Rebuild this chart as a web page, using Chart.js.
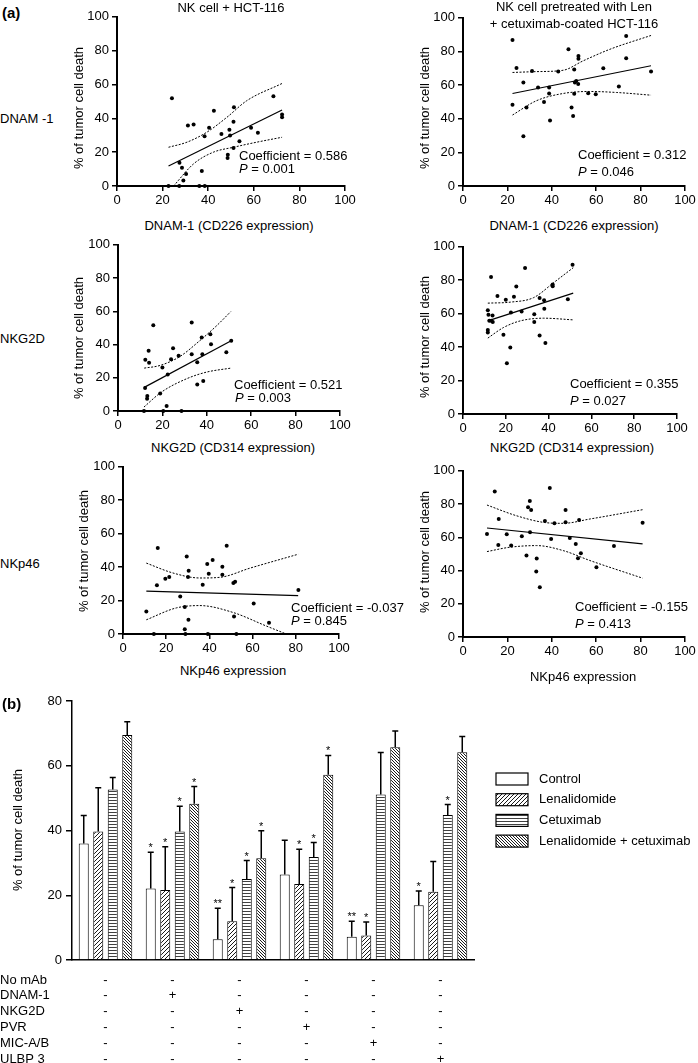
<!DOCTYPE html>
<html>
<head>
<meta charset="utf-8">
<script src="https://cdn.jsdelivr.net/npm/chart.js@4.4.1/dist/chart.umd.min.js"></script>
<style>
body { margin: 0; width: 698px; height: 1063px; position: relative; overflow: hidden; background: #fff; font-family: "Liberation Sans", Arial, sans-serif; color: #000; }
canvas { position: absolute; }
.t { position: absolute; font-size: 13px; line-height: 1; white-space: nowrap; }
.c { transform: translate(-50%, -50%); }
.l { transform: translateY(-50%); }
.r { transform: translate(-50%, -50%) rotate(-90deg); }
.b { font-weight: bold; font-size: 15px; }
</style>
</head>
<body>
<canvas id="c1"></canvas>
<canvas id="c2"></canvas>
<canvas id="c3"></canvas>
<canvas id="c4"></canvas>
<canvas id="c5"></canvas>
<canvas id="c6"></canvas>
<canvas id="bars"></canvas>

<div class="t l b" style="left:2px;top:12px">(a)</div>
<div class="t c" style="left:231px;top:7px">NK cell + HCT-116</div>
<div class="t c" style="left:574px;top:6px">NK cell pretreated with Len</div>
<div class="t c" style="left:574px;top:23px">+ cetuximab-coated HCT-116</div>

<div class="t l" style="left:0px;top:118px">DNAM -1</div>
<div class="t l" style="left:0px;top:338px">NKG2D</div>
<div class="t l" style="left:0px;top:563px">NKp46</div>

<div class="t r" style="left:78px;top:108px">% of tumor cell death</div>
<div class="t r" style="left:424px;top:108px">% of tumor cell death</div>
<div class="t r" style="left:78px;top:338px">% of tumor cell death</div>
<div class="t r" style="left:424px;top:337px">% of tumor cell death</div>
<div class="t r" style="left:83px;top:551px">% of tumor cell death</div>
<div class="t r" style="left:424px;top:552px">% of tumor cell death</div>

<div class="t c" style="left:229px;top:225px">DNAM-1 (CD226 expression)</div>
<div class="t c" style="left:574px;top:225px">DNAM-1 (CD226 expression)</div>
<div class="t c" style="left:233px;top:447px">NKG2D (CD314 expression)</div>
<div class="t c" style="left:572px;top:447px">NKG2D (CD314 expression)</div>
<div class="t c" style="left:233px;top:670px">NKp46 expression</div>
<div class="t c" style="left:583px;top:676px">NKp46 expression</div>

<div class="t l" style="left:239px;top:155px">Coefficient = 0.586</div>
<div class="t l" style="left:239px;top:168px"><i>P</i> = 0.001</div>
<div class="t l" style="left:578px;top:154px">Coefficient = 0.312</div>
<div class="t l" style="left:578px;top:171px"><i>P</i> = 0.046</div>
<div class="t l" style="left:234px;top:384px">Coefficient = 0.521</div>
<div class="t l" style="left:235px;top:397px"><i>P</i> = 0.003</div>
<div class="t l" style="left:570px;top:383px">Coefficient = 0.355</div>
<div class="t l" style="left:570px;top:400px"><i>P</i> = 0.027</div>
<div class="t l" style="left:291px;top:607px">Coefficient = -0.037</div>
<div class="t l" style="left:291px;top:620px"><i>P</i> = 0.845</div>
<div class="t l" style="left:575px;top:606px">Coefficient = -0.155</div>
<div class="t l" style="left:575px;top:623px"><i>P</i> = 0.413</div>

<div class="t l b" style="left:2px;top:703px">(b)</div>
<div class="t r" style="left:17px;top:830px">% of tumor cell death</div>

<script>
// (a) NK cell + HCT-116, DNAM-1
var c1X = [24.1, 31.1, 33.6, 40.4, 42.5, 38.4, 45.8, 49.3, 49.6, 51.3, 51.1, 53.7, 51.1, 48.6, 48.5, 58.8, 61.8, 68.6, 72.4, 72.4, 27.4, 28.5, 30.3, 29.1, 37.2, 22.6, 27.3, 36.1, 38.5];
var c1Y = [51.8, 35.7, 36.3, 34.5, 44.5, 29.4, 30.8, 33.3, 29.8, 46.5, 38.0, 26.5, 22.5, 18.4, 16.5, 34.5, 31.4, 53.1, 42.2, 40.6, 13.7, 10.8, 7.1, 3.3, 8.8, 0, 0, 0, 0];
var c1FitX = [22.6, 72.4], c1FitY = [11.8, 44.9];
var c1UpX = [22.6, 30.7, 39.4, 48.2, 56.9, 72.4], c1UpY = [22.9, 25.9, 31.8, 40.6, 50.4, 60.6];
var c1LoX = [24.8, 33.6, 42.3, 51.1, 61.3, 72.4], c1LoY = [0, 13.1, 20.0, 22.9, 25.9, 28.8];

// Len + cetuximab, DNAM-1
var c2X = [22.3, 24.1, 22.3, 27.2, 28.6, 27.2, 31.1, 33.8, 38.8, 38.8, 36.5, 39.2, 42.9, 47.5, 48.9, 49.6, 50.1, 50.1, 50.4, 51.0, 51.9, 52.0, 52.0, 56.4, 59.8, 63.2, 70.2, 73.5, 73.5, 84.7];
var c2Y = [86.8, 70.2, 48.3, 61.5, 46.7, 29.6, 68.4, 58.6, 58.6, 55.0, 49.9, 38.9, 68.0, 81.3, 46.7, 41.6, 69.2, 54.8, 61.5, 62.5, 60.6, 77.3, 75.7, 55.2, 54.6, 70.0, 59.2, 89.2, 75.9, 68.0];
var c2FitX = [22.3, 84.7], c2FitY = [55.0, 71.5];
var c2UpX = [22.3, 33.1, 45.1, 54.1, 66.2, 84.7], c2UpY = [67.5, 68.0, 68.8, 74.4, 81.3, 89.5];
var c2LoX = [22.3, 33.1, 45.1, 57.1, 69.2, 84.7], c2LoY = [42.2, 50.7, 55.0, 56.2, 55.6, 54.0];

// NK cell + HCT-116, NKG2D
var c3X = [15.9, 12.3, 14.0, 13.8, 20.0, 22.4, 23.9, 24.8, 27.3, 33.2, 33.2, 35.7, 37.7, 38.0, 41.6, 41.9, 48.8, 51.0, 35.7, 38.4, 13.1, 13.2, 19.0, 21.9, 11.7, 20.4, 28.6, 12.2];
var c3Y = [51.6, 30.8, 29.0, 36.2, 26.2, 22.0, 31.2, 37.8, 33.2, 53.2, 34.2, 29.4, 44.2, 34.2, 46.2, 40.2, 35.4, 42.2, 16.0, 18.0, 7.4, 9.0, 10.6, 3.0, 0, 0, 0, 13.8];
var c3FitX = [11.8, 51.2], c3FitY = [14.2, 42.4];
var c3UpX = [11.8, 18.9, 27.9, 36.9, 44.5, 50.8], c3UpY = [25.8, 27.4, 32.8, 42.4, 51.4, 59.8];
var c3LoX = [11.7, 19.6, 30.9, 39.9, 50.8], c3LoY = [2.4, 11.4, 19.4, 23.4, 25.8];

// Len + cetuximab, NKG2D
var c4X = [13.1, 11.6, 11.9, 13.8, 12.3, 13.3, 13.9, 11.6, 11.6, 16.1, 20.0, 18.9, 22.1, 20.5, 22.4, 23.8, 24.9, 29.0, 27.4, 33.3, 33.3, 35.8, 37.9, 38.0, 35.8, 38.5, 41.9, 41.9, 49.0, 51.2];
var c4Y = [82.0, 62.1, 59.3, 58.9, 55.7, 55.7, 55.0, 50.2, 48.8, 70.6, 68.3, 47.4, 39.8, 30.3, 60.7, 70.2, 76.2, 87.3, 61.3, 59.7, 55.0, 69.4, 68.1, 62.9, 47.0, 42.5, 77.4, 76.4, 68.7, 89.3];
var c4FitX = [11.6, 51.5], c4FitY = [55.7, 72.3];
var c4UpX = [11.6, 22.1, 33.0, 42.4, 51.5], c4UpY = [66.3, 66.9, 69.6, 78.6, 87.5];
var c4LoX = [11.6, 18.9, 26.8, 37.7, 51.5], c4LoY = [45.4, 51.7, 55.7, 57.3, 56.3];

// NK cell + HCT-116, NKp46
var c5X = [16.1, 15.7, 19.6, 21.4, 29.5, 30.4, 30.1, 26.5, 36.9, 39.0, 39.7, 41.5, 46.0, 46.0, 48.0, 51.1, 51.9, 81.2, 10.8, 28.6, 30.3, 28.6, 60.5, 51.4, 67.6, 14.3, 28.9, 39.3, 52.5];
var c5Y = [51.4, 29.1, 33.1, 34.1, 46.3, 37.8, 34.1, 22.4, 29.5, 41.8, 36.1, 44.2, 40.2, 35.5, 52.8, 30.5, 31.3, 26.3, 13.5, 16.2, 8.5, 2.8, 18.2, 10.5, 6.8, 0, 0, 0, 0];
var c5FitX = [10.8, 81.1], c5FitY = [25.7, 22.9];
var c5UpX = [10.8, 23.1, 35.6, 44.9, 58.8, 81.1], c5UpY = [42.4, 36.5, 33.5, 33.9, 39.4, 47.7];
var c5LoX = [10.8, 24.7, 35.5, 50.9, 66.3, 75.6], c5LoY = [8.5, 15.6, 17.0, 12.9, 4.8, 0];

// Len + cetuximab, NKp46
var c6X = [14.3, 10.8, 16.1, 15.9, 19.7, 21.7, 26.5, 28.6, 30.1, 29.3, 30.7, 30.2, 33.2, 33.0, 34.6, 36.9, 39.7, 39.1, 41.2, 46.2, 46.2, 52.3, 48.1, 50.8, 53.1, 51.8, 60.1, 68.0, 80.9];
var c6Y = [87.6, 62.0, 71.0, 55.4, 61.8, 55.0, 60.6, 49.0, 81.8, 78.0, 76.4, 63.0, 47.2, 39.4, 30.0, 69.8, 59.0, 89.6, 68.4, 76.4, 69.0, 70.4, 59.6, 56.0, 50.4, 47.4, 42.0, 54.8, 68.8];
var c6FitX = [10.8, 80.9], c6FitY = [65.6, 56.0];
var c6UpX = [10.8, 24.0, 36.1, 45.1, 57.2, 80.9], c6UpY = [79.4, 73.0, 69.0, 68.4, 71.0, 76.6];
var c6LoX = [10.8, 21.1, 33.1, 45.1, 57.2, 80.9], c6LoY = [51.4, 54.0, 55.0, 52.0, 46.0, 35.4];

// (b) blocking antibodies
var groups = ['No mAb', 'DNAM-1', 'NKG2D', 'PVR', 'MIC-A/B', 'ULBP 3'];
var seriesNames = ['Control', 'Lenalidomide', 'Cetuximab', 'Lenalidomide + cetuximab'];
var control = [36.0, 22.1, 6.4, 26.4, 7.2, 16.9];
var controlSd = [8.6, 11.2, 9.6, 10.6, 4.8, 4.4];
var controlStars = ['', '*', '**', '', '**', '*'];
var lenalidomide = [39.7, 21.6, 12.0, 23.5, 7.6, 21.1];
var lenalidomideSd = [13.5, 13.4, 10.4, 10.7, 4.1, 9.3];
var lenalidomideStars = ['', '*', '*', '*', '*', ''];
var cetuximab = [52.7, 39.7, 25.0, 31.8, 51.1, 44.8];
var cetuximabSd = [3.7, 7.8, 5.7, 4.5, 13.0, 3.2];
var cetuximabStars = ['', '*', '*', '*', '', '*'];
var combo = [69.5, 48.3, 31.4, 57.2, 65.7, 64.2];
var comboSd = [4.1, 5.3, 8.5, 6.0, 5.0, 4.8];
var comboStars = ['', '*', '*', '*', '', ''];
var tableRows = ['No mAb', 'DNAM-1', 'NKG2D', 'PVR', 'MIC-A/B', 'ULBP 3'];
var tableMarks = [
    ['-', '-', '-', '-', '-', '-'],
    ['-', '+', '-', '-', '-', '-'],
    ['-', '-', '+', '-', '-', '-'],
    ['-', '-', '-', '+', '-', '-'],
    ['-', '-', '-', '-', '+', '-'],
    ['-', '-', '-', '-', '-', '+']
];

var FONT = '"Liberation Sans", Arial, sans-serif';
Chart.defaults.font.family = FONT;
Chart.defaults.font.size = 13;
Chart.defaults.color = '#000';

function pts(xs, ys) {
    return xs.map(function (x, i) { return { x: x, y: ys[i] }; });
}

function scatterPanel(id, box, xs, ys, fitX, fitY, upX, upY, loX, loY) {
    var yW = 50, padTop = 10, padRight = 16, xH = 24;
    var cv = document.getElementById(id);
    cv.width = box.r - box.l + yW + padRight;
    cv.height = box.b - box.t + padTop + xH;
    cv.style.left = (box.l - yW) + 'px';
    cv.style.top = (box.t - padTop) + 'px';

    var band = { type: 'line', borderColor: '#000', borderWidth: 1, borderDash: [2, 1.5], pointRadius: 0, cubicInterpolationMode: 'monotone' };

    new Chart(cv, {
        type: 'scatter',
        data: {
            datasets: [
                { data: pts(xs, ys), pointRadius: 2, pointBackgroundColor: '#000', pointBorderWidth: 0, clip: false },
                { type: 'line', data: pts(fitX, fitY), borderColor: '#000', borderWidth: 1.2, pointRadius: 0 },
                Object.assign({ data: pts(upX, upY) }, band),
                Object.assign({ data: pts(loX, loY) }, band)
            ]
        },
        options: {
            responsive: false,
            animation: false,
            events: [],
            devicePixelRatio: 1,
            layout: { padding: { top: padTop, right: padRight, left: 0, bottom: 0 } },
            plugins: { legend: { display: false }, tooltip: { enabled: false } },
            scales: {
                x: {
                    type: 'linear', min: 0, max: 100,
                    afterFit: function (s) { s.height = xH; },
                    ticks: { stepSize: 20, padding: 2, maxRotation: 0, autoSkip: false },
                    grid: { drawOnChartArea: false, color: '#000', lineWidth: 1.5, tickLength: 5 },
                    border: { color: '#000', width: 2 }
                },
                y: {
                    min: 0, max: 100,
                    afterFit: function (s) { s.width = yW; },
                    ticks: { stepSize: 20, padding: 3 },
                    grid: { drawOnChartArea: false, color: '#000', lineWidth: 1.5, tickLength: 5 },
                    border: { color: '#000', width: 2 }
                }
            }
        }
    });
}

scatterPanel('c1', { l: 117, t: 16, r: 345, b: 186 }, c1X, c1Y, c1FitX, c1FitY, c1UpX, c1UpY, c1LoX, c1LoY);
scatterPanel('c2', { l: 463, t: 17, r: 685, b: 186 }, c2X, c2Y, c2FitX, c2FitY, c2UpX, c2UpY, c2LoX, c2LoY);
scatterPanel('c3', { l: 118, t: 244, r: 340, b: 411 }, c3X, c3Y, c3FitX, c3FitY, c3UpX, c3UpY, c3LoX, c3LoY);
scatterPanel('c4', { l: 463, t: 246, r: 677, b: 414 }, c4X, c4Y, c4FitX, c4FitY, c4UpX, c4UpY, c4LoX, c4LoY);
scatterPanel('c5', { l: 123, t: 466, r: 339, b: 634 }, c5X, c5Y, c5FitX, c5FitY, c5UpX, c5UpY, c5LoX, c5LoY);
scatterPanel('c6', { l: 463, t: 470, r: 685, b: 637 }, c6X, c6Y, c6FitX, c6FitY, c6UpX, c6UpY, c6LoX, c6LoY);

// hatch fills for the bars
function hatch(size, draw) {
    var c = document.createElement('canvas');
    c.width = c.height = size;
    var g = c.getContext('2d');
    g.fillStyle = '#fff';
    g.fillRect(0, 0, size, size);
    g.strokeStyle = '#000';
    g.fillStyle = '#000';
    g.lineWidth = 0.9;
    draw(g, size);
    return g.createPattern(c, 'repeat');
}
var lenFill = hatch(4, function (g, s) {
    g.beginPath();
    g.moveTo(0, s); g.lineTo(s, 0);
    g.moveTo(-1, 1); g.lineTo(1, -1);
    g.moveTo(s - 1, s + 1); g.lineTo(s + 1, s - 1);
    g.stroke();
});
var cetFill = hatch(3, function (g, s) {
    g.globalAlpha = 0.75;
    g.fillRect(0, 0, s, 1);
});
var comboFill = hatch(3, function (g, s) {
    g.beginPath();
    g.moveTo(0, 0); g.lineTo(s, s);
    g.moveTo(-1, s - 1); g.lineTo(1, s + 1);
    g.moveTo(s - 1, -1); g.lineTo(s + 1, 1);
    g.stroke();
});

var barExtras = {
    id: 'barExtras',
    afterDatasetsDraw: function (chart) {
        var ctx = chart.ctx, ys = chart.scales.y, xs = chart.scales.x;
        ctx.save();
        ctx.strokeStyle = '#000';
        ctx.fillStyle = '#000';
        ctx.lineWidth = 1.5;
        ctx.textAlign = 'center';
        ctx.textBaseline = 'middle';
        ctx.font = '11px ' + FONT;
        chart.data.datasets.forEach(function (ds, i) {
            chart.getDatasetMeta(i).data.forEach(function (bar, j) {
                var top = ys.getPixelForValue(ds.data[j] + ds.sd[j]);
                ctx.beginPath();
                ctx.moveTo(bar.x, bar.y);
                ctx.lineTo(bar.x, top);
                ctx.moveTo(bar.x - 3, top);
                ctx.lineTo(bar.x + 3, top);
                ctx.stroke();
                if (ds.stars[j]) ctx.fillText(ds.stars[j], bar.x, top - 4);
            });
        });

        // legend
        ctx.textAlign = 'left';
        ctx.font = '13px ' + FONT;
        ctx.lineWidth = 1.2;
        chart.data.datasets.forEach(function (ds, i) {
            var cy = 99 + i * 20.7;
            ctx.fillStyle = ds.backgroundColor;
            ctx.fillRect(496, cy - 6, 32, 12);
            ctx.strokeRect(496, cy - 6, 32, 12);
            ctx.fillStyle = '#000';
            ctx.fillText(ds.label, 539, cy);
        });

        // antibody table under the axis
        ctx.font = '13px ' + FONT;
        tableRows.forEach(function (name, r) {
            var cy = 300 + r * 15.8;
            ctx.textAlign = 'left';
            ctx.fillText(name, 0, cy);
            ctx.textAlign = 'center';
            tableMarks[r].forEach(function (m, k) {
                ctx.fillText(m, xs.getPixelForValue(k), cy);
            });
        });
        ctx.restore();
    }
};

(function () {
    var box = { l: 72, t: 701, r: 474, b: 960 };
    var cv = document.getElementById('bars');
    var top = 680;
    cv.width = 698;
    cv.height = 1063 - top;
    cv.style.left = '0px';
    cv.style.top = top + 'px';
    var fills = ['#fff', lenFill, cetFill, comboFill];
    var vals = [control, lenalidomide, cetuximab, combo];
    var sds = [controlSd, lenalidomideSd, cetuximabSd, comboSd];
    var stars = [controlStars, lenalidomideStars, cetuximabStars, comboStars];
    var datasets = seriesNames.map(function (name, i) {
        return {
            label: name, data: vals[i], sd: sds[i], stars: stars[i],
            backgroundColor: fills[i], borderColor: '#000', borderWidth: 1,
            categoryPercentage: 0.866, barPercentage: 0.69
        };
    });
    new Chart(cv, {
        type: 'bar',
        data: { labels: groups, datasets: datasets },
        options: {
            responsive: false,
            animation: false,
            events: [],
            devicePixelRatio: 1,
            layout: { padding: { top: box.t - top, right: 698 - box.r, left: 0, bottom: 1063 - box.b - 2 } },
            plugins: { legend: { display: false }, tooltip: { enabled: false } },
            scales: {
                x: {
                    afterFit: function (s) { s.height = 2; },
                    ticks: { display: false },
                    grid: { display: false },
                    border: { color: '#000', width: 1.5 }
                },
                y: {
                    min: 0, max: 80,
                    afterFit: function (s) { s.width = box.l; },
                    ticks: { stepSize: 20, padding: 4 },
                    grid: { drawOnChartArea: false, color: '#000', lineWidth: 1.5, tickLength: 6 },
                    border: { color: '#000', width: 1.5 }
                }
            }
        },
        plugins: [barExtras]
    });
})();
</script>
</body>
</html>
